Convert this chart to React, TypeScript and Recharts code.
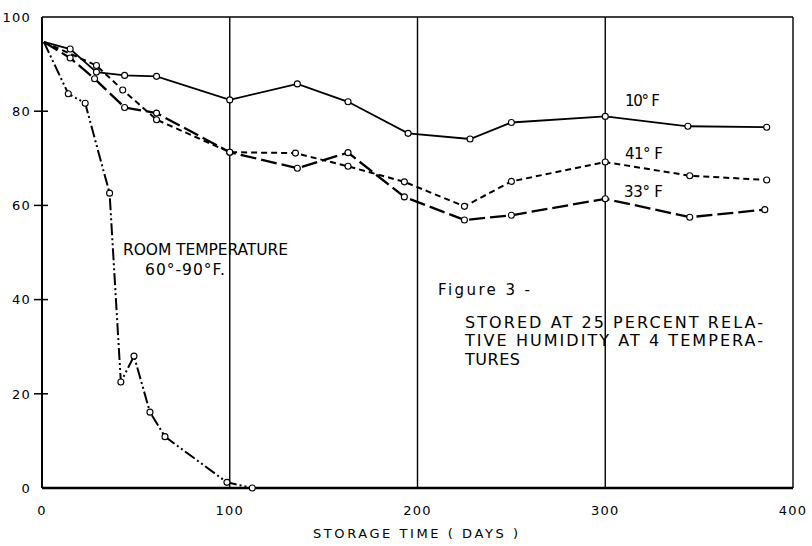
import React from "react";
import { LineChart, Line, XAxis, YAxis, ReferenceLine, Customized } from "recharts";

const days10 = [1, 15, 29, 44, 61, 100, 136, 163, 195, 228, 250, 300, 344, 386];
const vals10 = [94.7, 93.2, 88.3, 87.6, 87.4, 82.4, 85.8, 82.0, 75.3, 74.1, 77.6, 78.9, 76.8, 76.6];

const days41 = [1, 29, 43, 61, 100, 135, 163, 193, 225, 250, 300, 345, 386];
const vals41 = [94.7, 89.7, 84.5, 78.2, 71.3, 71.1, 68.3, 65.0, 59.8, 65.1, 69.2, 66.3, 65.4];

const days33 = [1, 15, 28, 44, 61, 100, 136, 163, 193, 225, 250, 300, 345, 385];
const vals33 = [94.7, 91.3, 86.9, 80.8, 79.6, 71.3, 67.9, 71.2, 61.8, 56.9, 57.9, 61.4, 57.5, 59.1];

const daysRoom = [1, 14, 23, 36, 42, 49, 57.5, 65.5, 98.5, 112];
const valsRoom = [94.7, 83.7, 81.7, 62.6, 22.5, 28.0, 16.1, 10.9, 1.2, 0];

const xTicks = [0, 100, 200, 300, 400];
const yTicks = [0, 20, 40, 60, 80, 100];
const gridDays = [100, 200, 300, 400];

const toData = (d: number[], v: number[]) => d.map((day, i) => ({ day, v: v[i] }));

const FONT = "DejaVu Sans, sans-serif";

const OpenDot = (props: any) => {
  const { cx, cy, index } = props;
  if (index === 0 || cx == null || cy == null) return <g key={`d${index}`} />;
  return <circle key={`d${index}`} cx={cx} cy={cy} r={3} fill="#fff" stroke="#000" strokeWidth={1.1} />;
};

const YTick = (props: any) => {
  const { x, y, payload } = props;
  return (
    <g>
      {payload.value !== 0 && payload.value !== 100 ? (
        <line x1={x - 6} x2={x + 8} y1={y} y2={y} stroke="#000" strokeWidth={1.5} />
      ) : null}
      <text x={x - 9} y={y} dy={4.8} textAnchor="end" fontFamily={FONT} fontSize={13} letterSpacing={1.2} fill="#000">
        {payload.value}
      </text>
    </g>
  );
};

const XTick = (props: any) => {
  const { x, y, payload } = props;
  return (
    <text x={x} y={y} dy={25} textAnchor="middle" fontFamily={FONT} fontSize={13} letterSpacing={1.2} fill="#000">
      {payload.value}
    </text>
  );
};

const Annotations = () => (
  <g fontFamily={FONT} fill="#000">
    <text x={625} y={106} fontSize={15} textLength={35} lengthAdjust="spacing">10° F</text>
    <text x={625} y={159} fontSize={15} textLength={38} lengthAdjust="spacing">41° F</text>
    <text x={624} y={197} fontSize={15} textLength={39} lengthAdjust="spacing">33° F</text>
    <text x={123} y={255} fontSize={15.5} textLength={165} lengthAdjust="spacing">ROOM TEMPERATURE</text>
    <text x={145} y={275} fontSize={15.5} textLength={80} lengthAdjust="spacing">60°-90°F.</text>
    <text x={438} y={295} fontSize={15} textLength={92} lengthAdjust="spacing">Figure 3 -</text>
    <text x={465} y={327.5} fontSize={16} textLength={298} lengthAdjust="spacing">STORED AT 25 PERCENT RELA-</text>
    <text x={465} y={346} fontSize={16} textLength={298} lengthAdjust="spacing">TIVE HUMIDITY AT 4 TEMPERA-</text>
    <text x={465} y={364.5} fontSize={16} textLength={55} lengthAdjust="spacing">TURES</text>
    <text x={313} y={538} fontSize={13} textLength={205} lengthAdjust="spacing">STORAGE TIME ( DAYS )</text>
  </g>
);

export default function App() {
  return (
    <div style={{ position: "absolute", left: 0, top: 0, width: 812, height: 546, background: "#fff" }}>
      <LineChart width={812} height={546} margin={{ top: 17, right: 19, left: 0, bottom: 0 }}>
        <XAxis
          dataKey="day"
          type="number"
          domain={[0, 400]}
          ticks={xTicks}
          tick={<XTick />}
          tickLine={false}
          tickSize={0}
          height={58}
          axisLine={{ stroke: "#000", strokeWidth: 2.5 }}
          allowDuplicatedCategory={false}
        />
        <YAxis
          type="number"
          domain={[0, 100]}
          ticks={yTicks}
          tick={<YTick />}
          tickLine={false}
          tickSize={0}
          width={42}
          axisLine={{ stroke: "#000", strokeWidth: 2 }}
        />
        {gridDays.map((d) => (
          <ReferenceLine key={d} x={d} stroke="#000" strokeWidth={1.4} ifOverflow="visible" />
        ))}
        <ReferenceLine y={100} stroke="#000" strokeWidth={1.6} />
        <Line data={toData(days10, vals10)} dataKey="v" stroke="#000" strokeWidth={1.8} dot={<OpenDot />} isAnimationActive={false} />
        <Line data={toData(days41, vals41)} dataKey="v" stroke="#000" strokeWidth={2} strokeDasharray="6 4" dot={<OpenDot />} isAnimationActive={false} />
        <Line data={toData(days33, vals33)} dataKey="v" stroke="#000" strokeWidth={2.3} strokeDasharray="16 5" dot={<OpenDot />} isAnimationActive={false} />
        <Line data={toData(daysRoom, valsRoom)} dataKey="v" stroke="#000" strokeWidth={2} strokeDasharray="12 3 2 3 2 3" dot={<OpenDot />} isAnimationActive={false} />
        <Customized component={Annotations} />
      </LineChart>
    </div>
  );
}
